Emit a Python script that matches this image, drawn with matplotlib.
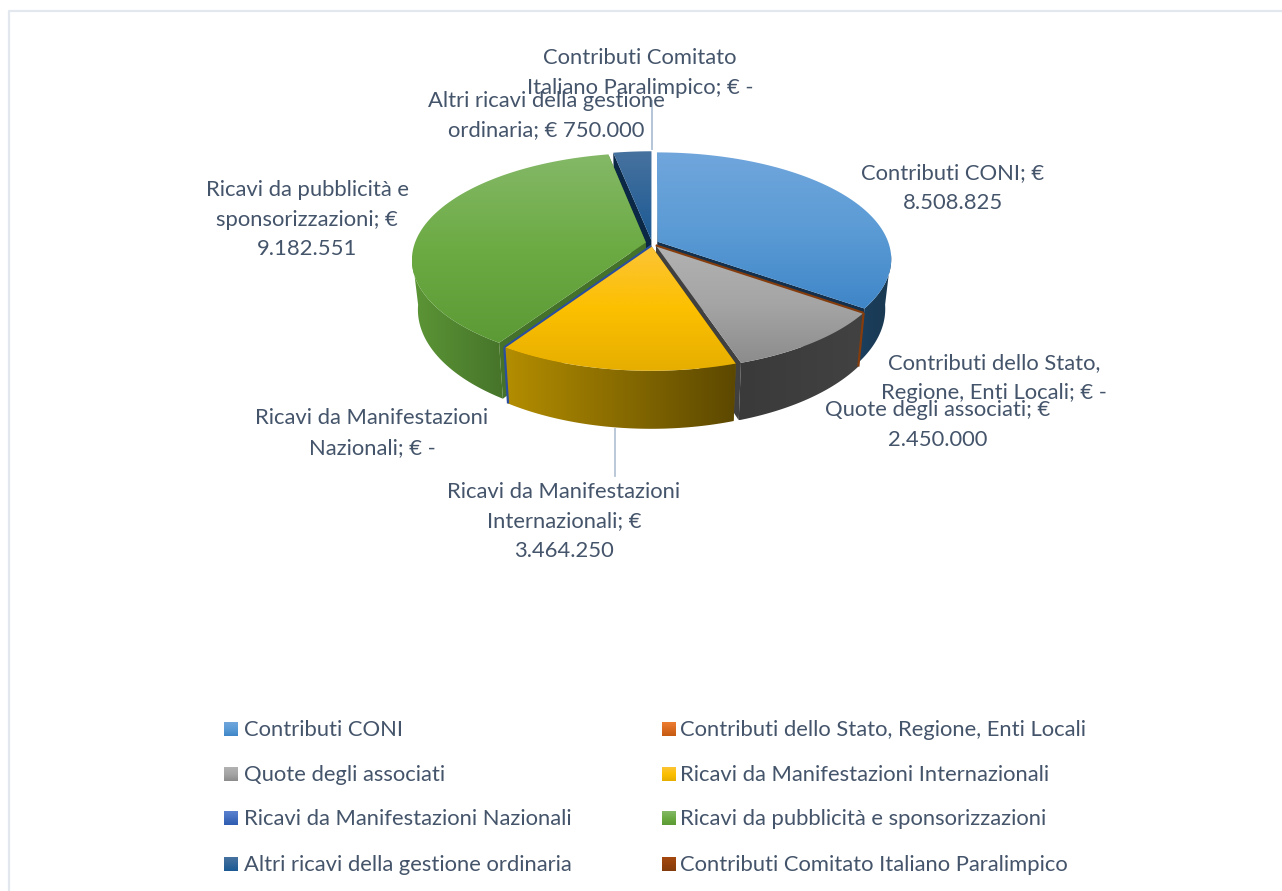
import numpy as np
import matplotlib
matplotlib.use("Agg")
import matplotlib.pyplot as plt
from matplotlib.patches import Polygon
from matplotlib.colors import LinearSegmentedColormap

# ---- data ----
categories = ["Contributi CONI", "Contributi dello Stato, Regione, Enti Locali",
              "Quote degli associati", "Ricavi da Manifestazioni Internazionali",
              "Ricavi da Manifestazioni Nazionali", "Ricavi da pubblicità e sponsorizzazioni",
              "Altri ricavi della gestione ordinaria", "Contributi Comitato Italiano Paralimpico"]
values = [8508825, 0, 2450000, 3464250, 0, 9182551, 750000, 0]
label_texts = ["Contributi CONI; €\n8.508.825",
               "Contributi dello Stato,\nRegione, Enti Locali; € -",
               "Quote degli associati; €\n2.450.000",
               "Ricavi da Manifestazioni\nInternazionali; €\n3.464.250",
               "Ricavi da Manifestazioni\nNazionali; € -",
               "Ricavi da pubblicità e\nsponsorizzazioni; €\n9.182.551",
               "Altri ricavi della gestione\nordinaria; € 750.000",
               "Contributi Comitato\nItaliano Paralimpico; € -"]

# ---- style ----
top_cols = [("#70a6dc", "#5b9bd5", "#3f86c8"), ("#ed7d31", "#c55a11"), ("#b2b2b2", "#a5a5a5", "#8c8c8c"),
            ("#fcc437", "#fcc000", "#e6ae00"), ("#5a82d0", "#2f5cb0"), ("#84b867", "#6cab44", "#5b9a34"),
            ("#47729f", "#1c5a94"), ("#a5480f", "#843c0c")]
wall_cols = [("#1b3f5e", "#1a3850"), ("#843c0c", "#843c0c"), ("#3a3a3a", "#424242"),
             ("#b48e00", "#5c4800"), ("#24478c", "#24478c"), ("#5c9636", "#46742a"),
             ("#0d2c4a", "#0d2c4a"), ("#843c0c", "#843c0c")]
radial_col = ["#14304c", "#843c0c", "#404040", "#7a5f00", "#2a4f9e", "#45722a", "#0b2846", "#843c0c"]
TXT = "#44546a"
W, H = 1282, 891
CX, CY = 652, 243
RX, RY, PERSP = 231, 104, 0.16
EXPL = 0.027
DEPTH, SHRINK = 48.5, 0.975
FS = 15.8

plt.rcParams["font.family"] = ["Lato", "DejaVu Sans"]
fig = plt.figure(figsize=(W / 100, H / 100), dpi=100)
ax = fig.add_axes([0, 0, 1, 1])
ax.set_xlim(0, W); ax.set_ylim(H, 0); ax.axis("off")
# chart-area frame: only the top and left edges fall inside the picture
ax.plot([9, 9, W], [H, 11, 11], color="#e3e7ee", lw=1.6, zorder=1)


def proj(u, v):
    s = 1 / (1 + PERSP * v)
    return CX + RX * u * s, CY - RY * v * s, s


def top_pt(t, off, r=1.0):
    return proj(off[0] + r * np.sin(t), off[1] + r * np.cos(t))


def bottom(p):
    x, y, s = p
    return CX + (x - CX) * SHRINK, y + DEPTH * s


def gradient(poly, cols, horizontal=False):
    xs, ys = poly[:, 0], poly[:, 1]
    if np.ptp(xs) < .5 or np.ptp(ys) < .5:
        return
    cm = LinearSegmentedColormap.from_list("g", list(cols))
    g = np.linspace(0, 1, 256)
    g = g[None, :] if horizontal else g[:, None]
    im = ax.imshow(g, cmap=cm, extent=(xs.min(), xs.max(), ys.max(), ys.min()),
                   aspect="auto", interpolation="bilinear", zorder=3)
    pat = Polygon(poly, closed=True, transform=ax.transData, fc="none", ec="none")
    ax.add_patch(pat)
    im.set_clip_path(pat)


shares = np.array(values, float) / sum(values)
edges = np.concatenate([[0], np.cumsum(shares)]) * 2 * np.pi
slices = []
for i in range(len(values)):
    a0, a1 = edges[i], edges[i + 1]
    mid = (a0 + a1) / 2
    off = (EXPL * np.sin(mid), EXPL * np.cos(mid)) if shares[i] > 0 else (0, 0)
    slices.append((i, a0, a1, off))

draw_order = [6, 7, 0, 5, 1, 2, 4, 3]
for i, a0, a1, off in (slices[k] for k in draw_order):
    if shares[i] == 0:
        continue
    ts = np.linspace(a0, a1, 200)
    apex = proj(*off)
    rim = [top_pt(t, off) for t in ts]
    rim_xy = np.array([p[:2] for p in rim])
    rim_b = np.array([bottom(p) for p in rim])
    apex_b = np.array(bottom(apex))
    # radial walls
    for p in (rim[0], rim[-1]):
        q = np.array([apex[:2], p[:2], bottom(p), apex_b])
        gradient(q, (radial_col[i], radial_col[i]))
    # outer wall: the part facing the viewer, up to the silhouette
    front = np.cos(ts) < -0.12
    if front.any():
        q = np.vstack([rim_xy[front], rim_b[front][::-1]])
        gradient(q, wall_cols[i], horizontal=True)
    # top surface
    gradient(np.vstack([[apex[:2]], rim_xy]), top_cols[i])

# zero-valued slices: hairlines along their angle, on the neighbour they touch
neighbour = {1: 2, 4: 3}
for i, a0, a1, off in slices:
    if i not in neighbour:
        continue
    nb = slices[neighbour[i]][3]
    ap = proj(*nb)
    rp = top_pt(a0, nb)
    col = wall_cols[i][0] if i == 1 else radial_col[i]
    ax.plot([ap[0], rp[0]], [ap[1], rp[1]], color=col, lw=1.5, zorder=4, solid_capstyle="butt")
    b = bottom(rp)
    ax.plot([rp[0], b[0]], [rp[1], b[1]], color=col, lw=1.6, zorder=4, solid_capstyle="butt")

# leader lines
ax.plot([652, 652], [101, 149], color="#b4c4d6", lw=1.4, zorder=2)
ax.plot([615, 615], [429, 476], color="#b4c4d6", lw=1.3, zorder=2)

# data labels (centre positions of the text block)
label_xy = [(953, 188), (994, 378), (938, 425), (564, 521.5), (372, 433), (307, 219.5), (546, 115.5), (640, 73)]
for t, (x, y) in zip(label_texts, label_xy):
    ax.text(x, y, t, ha="center", va="center", fontsize=FS, color=TXT, linespacing=1.62, zorder=6)

# legend
leg_x = [224, 662]
leg_y = [729, 774, 818, 864]
for i, name in enumerate(categories):
    x, y = leg_x[i % 2], leg_y[i // 2]
    sw = np.array([[x, y - 7], [x + 14, y - 7], [x + 14, y + 7], [x, y + 7]])
    gradient(sw, top_cols[i])
    ax.text(x + 18 if i % 2 else x + 20, y + 7, name, ha="left", va="baseline", fontsize=FS, color=TXT, zorder=6)

ax.set_xlim(0, W); ax.set_ylim(H, 0)
fig.savefig("out.png", dpi=100)
